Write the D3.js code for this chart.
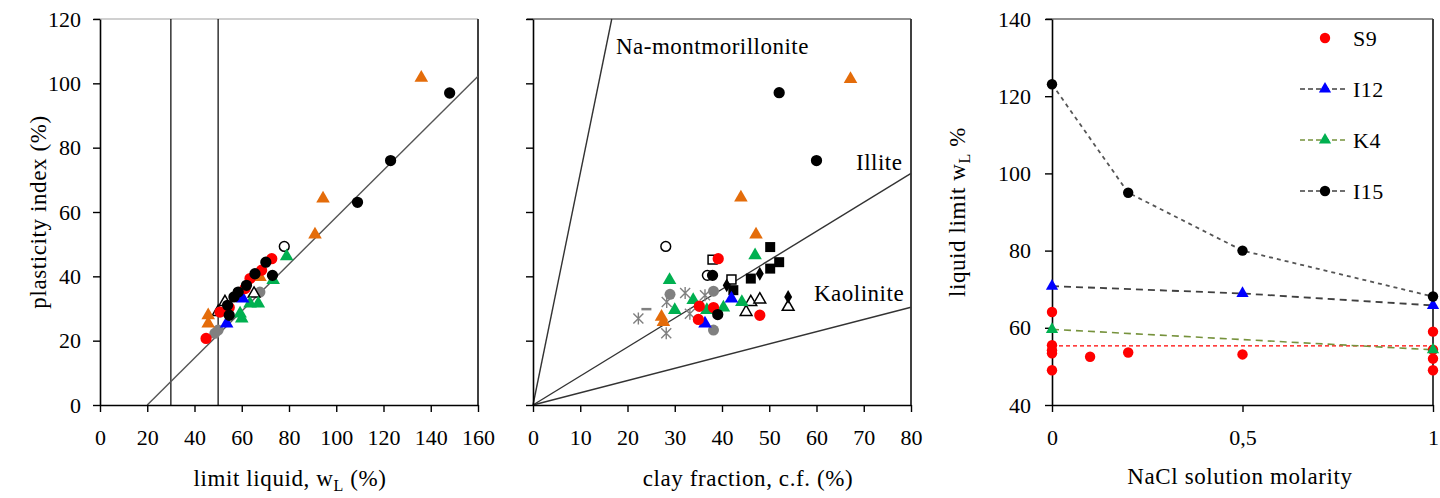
<!DOCTYPE html>
<html>
<head>
<meta charset="utf-8">
<script src="https://cdn.jsdelivr.net/npm/d3@7"></script>
<style>
  body { margin: 0; background: #fff; }
  svg text { font-family: 'Liberation Serif', 'Times New Roman', serif; fill: #000; }
</style>
</head>
<body>
<div id="chart"></div>
<script>
// ---- data: Casagrande plasticity chart (wL, PI)
var casaRed = [[44.9, 20.7], [50.8, 28.9], [54.7, 30.3], [61.4, 36.2], [63.5, 39.3], [68.4, 41.9], [72.7, 45.5]];
var casaBlack = [[54.7, 27.9], [54, 31], [56.7, 33.6], [58.5, 35.1], [62, 37.2], [65.6, 40.8], [70.2, 44.4], [73, 40.3], [109, 63], [123, 76], [148, 97]];
var casaGrey = [[48.6, 22.3], [50, 23.3], [67.7, 35.1]];
var casaOrange = [[45.8, 25.3], [45.8, 27.9], [67.7, 39.8], [91, 53], [94.4, 64.2], [136, 101.7]];
var casaGreen = [[59.3, 28.4], [60, 26.9], [63.5, 31.5], [67, 31.5], [73.3, 38.8], [79, 46.2]];
var casaBlue = [[53.6, 25.3], [60.4, 33.1]];
var casaOpenTri = [[50, 28.9], [52.9, 32], [65.2, 34.6]];
var casaOpenCircle = [[78, 49.3]];
var casaVertical = [30, 50];
var aLine = [[20, 0], [160, 102.2]];

// ---- data: activity chart (clay fraction, PI)
var actRed = [[35.2, 30.7], [38.2, 30.3], [35, 26.6], [48, 27.9], [39.2, 45.5]];
var actBlack = [[38, 40.3], [39.1, 28.1], [52.1, 97.1], [60, 76]];
var actBlackSquare = [[50.2, 49.1], [52.1, 44.4], [50.2, 42.4], [46.1, 39.3], [42.4, 35.7]];
var actBlackDiamond = [[48, 40.8], [41, 37.2], [54, 33.6]];
var actOpenSquare = [[38, 45.2], [42, 39]];
var actOpenCircle = [[28.1, 49.3], [36.9, 40.3]];
var actOpenTri = [[46.1, 32], [48, 32.8], [45.1, 28.9], [54, 30.5]];
var actGreen = [[47, 46.5], [28.9, 38.8], [33.9, 32.6], [30, 29.5], [36.8, 29.5], [40.3, 30.3], [44.2, 32]];
var actOrange = [[27.2, 27.4], [27.6, 25.8], [44, 64.5], [47.2, 53], [67.2, 101.3]];
var actBlue = [[42, 33.1], [36.4, 25.3]];
var actGrey = [[29, 34.4], [38.2, 35.4], [38.2, 23.3]];
var actGreyStar = [[22.3, 26.9], [28.3, 32], [28.2, 22.3], [32.2, 34.8], [33.2, 28.4], [36.4, 34.1]];
var actGreyDash = [[24, 29.8]];
var activityNames = ["Na-montmorillonite", "Illite", "Kaolinite"];
var activityValues = [7.2, 0.9, 0.38];

// ---- data: liquid limit vs NaCl molarity
var s9 = [[0, 64.1], [0, 55.5], [0, 54.2], [0, 53.4], [0, 49], [0.1, 52.5], [0.2, 53.6], [0.5, 53.1], [1, 59], [1, 54.3], [1, 52], [1, 49]];
var s9Trend = [[0, 55.3], [1, 55.3]];
var i12 = [[0, 70.8], [0.5, 68.9], [1, 65.8]];
var k4 = [[0, 59.6], [1, 54.3]];
var i15 = [[0, 123.1], [0.2, 95], [0.5, 80], [1, 68.1]];
var molarityTicks = [0, 0.5, 1];
var llTicks = [40, 60, 80, 100, 120, 140];
var legendNames = ["S9", "I12", "K4", "I15"];

var RED = "#FF0000", BLACK = "#000000", GREY = "#808080", ORANGE = "#E46C0A",
    GREEN = "#00B050", BLUE = "#0000FF";

var svg = d3.select("#chart").append("svg")
    .attr("width", 1440)
    .attr("height", 498);

var FS = 22;

// scales
var xL = d3.scaleLinear().domain([0, 160]).range([100, 478]);
var yL = d3.scaleLinear().domain([0, 120]).range([405, 19]);
var xM = d3.scaleLinear().domain([0, 80]).range([533, 911]);
var yM = yL;
var xR = d3.scaleLinear().domain([0, 1]).range([1052, 1433]);
var yR = d3.scaleLinear().domain([40, 140]).range([405, 19]);

function starPath(s) {
    return "M" + (-s) + "," + (-s) + "L" + s + "," + s +
        "M" + (-s) + "," + s + "L" + s + "," + (-s) +
        "M0," + (-s * 1.2) + "L0," + (s * 1.2);
}

function drawMarks(g, data, x, y, shape, color, size, open) {
    var sel = g.append("g").selectAll("path").data(data).enter().append("path")
        .attr("transform", function (d) { return "translate(" + x(d[0]) + "," + y(d[1]) + ")"; });
    if (shape == "star") {
        sel.attr("d", starPath(size)).style("fill", "none")
            .style("stroke", color).style("stroke-width", 1.4);
        return;
    }
    if (shape == "dash") {
        sel.attr("d", "M" + (-size) + ",0L" + size + ",0").style("fill", "none")
            .style("stroke", color).style("stroke-width", 2.5);
        return;
    }
    var type = {circle: d3.symbolCircle, triangle: d3.symbolTriangle,
        square: d3.symbolSquare, diamond: d3.symbolDiamond}[shape];
    sel.attr("d", d3.symbol().type(type).size(size)());
    if (open) {
        sel.style("fill", "#fff").style("stroke", color).style("stroke-width", 1.5);
    } else {
        sel.style("fill", color);
    }
}

function frame(g, x, y, topColor) {
    var r = x.range(), t = y.range();
    g.append("line").attr("x1", r[0] - 6).attr("x2", r[1]).attr("y1", t[1]).attr("y2", t[1])
        .style("stroke", topColor).style("stroke-width", 2);
    g.append("line").attr("x1", r[1]).attr("x2", r[1]).attr("y1", t[1]).attr("y2", t[0])
        .style("stroke", "#404040").style("stroke-width", 2);
}

function styleAxis(a) {
    a.selectAll("path").style("stroke", "#000").style("stroke-width", 1.6);
    a.selectAll("line").style("stroke", "#000").style("stroke-width", 1.4);
    a.selectAll("text").style("font-size", FS + "px")
        .style("font-family", "'Liberation Serif', serif");
}

function axisLabel(x, y, parts, rotate) {
    var t = svg.append("text")
        .attr("text-anchor", "middle")
        .style("font-size", "23px")
        .style("letter-spacing", "0.6px")
        .attr("transform", "translate(" + x + "," + y + ")" + (rotate ? " rotate(-90)" : ""));
    parts.forEach(function (p) {
        var s = t.append("tspan").text(p[0]);
        if (p[1] == "sub") s.attr("dy", 5).style("font-size", "16px");
        if (p[1] == "up") s.attr("dy", -5);
    });
}

// ---------- left panel
var gL = svg.append("g");
frame(gL, xL, yL, "#d0d0d0");
gL.selectAll(".vline").data(casaVertical).enter().append("line")
    .attr("x1", function (d) { return xL(d); })
    .attr("x2", function (d) { return xL(d); })
    .attr("y1", yL(0)).attr("y2", yL(120))
    .style("stroke", "#000").style("stroke-width", 1.2);
gL.append("path").datum(aLine)
    .attr("d", d3.line().x(function (d) { return xL(d[0]); }).y(function (d) { return yL(d[1]); }))
    .style("stroke", "#555").style("stroke-width", 1.4).style("fill", "none");

var axL = gL.append("g").attr("transform", "translate(0,405)")
    .call(d3.axisBottom(xL).tickValues(d3.range(0, 161, 20)).tickSize(7).tickSizeOuter(0).tickPadding(17));
styleAxis(axL);
var ayL = gL.append("g").attr("transform", "translate(100,0)")
    .call(d3.axisLeft(yL).tickValues(d3.range(0, 121, 20)).tickSize(7).tickSizeOuter(0).tickPadding(12));
styleAxis(ayL);

drawMarks(gL, casaGrey, xL, yL, "circle", GREY, 95);
drawMarks(gL, casaOpenTri, xL, yL, "triangle", BLACK, 60, true);
drawMarks(gL, casaOpenCircle, xL, yL, "circle", BLACK, 75, true);
drawMarks(gL, casaOrange, xL, yL, "triangle", ORANGE, 80);
drawMarks(gL, casaGreen, xL, yL, "triangle", GREEN, 80);
drawMarks(gL, casaBlue, xL, yL, "triangle", BLUE, 80);
drawMarks(gL, casaRed, xL, yL, "circle", RED, 100);
drawMarks(gL, casaBlack, xL, yL, "circle", BLACK, 100);

axisLabel(46, 212, [["plasticity index (%)"]], true);
axisLabel(290, 486, [["limit liquid, w"], ["L", "sub"], [" (%)", "up"]]);

// ---------- middle panel
var gM = svg.append("g");
frame(gM, xM, yM, "#909090");
gM.selectAll(".aline").data(activityValues).enter().append("line")
    .attr("x1", xM(0)).attr("y1", yM(0))
    .attr("x2", function (d) { return xM(Math.min(80, 120 / d)); })
    .attr("y2", function (d) { return yM(Math.min(120, 80 * d)); })
    .style("stroke", "#333").style("stroke-width", 1.4);

var axM = gM.append("g").attr("transform", "translate(0,405)")
    .call(d3.axisBottom(xM).tickValues(d3.range(0, 81, 10)).tickSize(7).tickSizeOuter(0).tickPadding(17));
styleAxis(axM);
var ayM = gM.append("g").attr("transform", "translate(533,0)")
    .call(d3.axisLeft(yM).tickValues(d3.range(0, 121, 20)).tickSize(7).tickSizeOuter(0).tickFormat(""));
styleAxis(ayM);

var labelPos = [[616, 54], [856, 170], [814, 301]];
activityNames.forEach(function (n, i) {
    gM.append("text").attr("x", labelPos[i][0]).attr("y", labelPos[i][1])
        .style("font-size", "23px").style("letter-spacing", "0.5px").text(n);
});

drawMarks(gM, actGreyStar, xM, yM, "star", GREY, 5);
drawMarks(gM, actGreyDash, xM, yM, "dash", GREY, 5);
drawMarks(gM, actGrey, xM, yM, "circle", GREY, 95);
drawMarks(gM, actOpenTri, xM, yM, "triangle", BLACK, 60, true);
drawMarks(gM, actOpenSquare, xM, yM, "square", BLACK, 80, true);
drawMarks(gM, actOpenCircle, xM, yM, "circle", BLACK, 75, true);
drawMarks(gM, actBlackSquare, xM, yM, "square", BLACK, 100);
drawMarks(gM, actBlackDiamond, xM, yM, "diamond", BLACK, 55);
drawMarks(gM, actOrange, xM, yM, "triangle", ORANGE, 80);
drawMarks(gM, actGreen, xM, yM, "triangle", GREEN, 80);
drawMarks(gM, actBlue, xM, yM, "triangle", BLUE, 80);
drawMarks(gM, actRed, xM, yM, "circle", RED, 100);
drawMarks(gM, actBlack, xM, yM, "circle", BLACK, 100);

axisLabel(748, 486, [["clay fraction, c.f. (%)"]]);

// ---------- right panel
var gR = svg.append("g");
frame(gR, xR, yR, "#909090");
var axR = gR.append("g").attr("transform", "translate(0,405)")
    .call(d3.axisBottom(xR).tickValues(molarityTicks).tickSize(7).tickSizeOuter(0).tickPadding(17)
        .tickFormat(function (d) { return String(d).replace(".", ","); }));
styleAxis(axR);
var ayR = gR.append("g").attr("transform", "translate(1052,0)")
    .call(d3.axisLeft(yR).tickValues(llTicks).tickSize(7).tickSizeOuter(0).tickPadding(14));
styleAxis(ayR);

var line = d3.line().x(function (d) { return xR(d[0]); }).y(function (d) { return yR(d[1]); });
var seriesLines = [
    [s9Trend, RED, "4,3", 1.2],
    [i12, "#404040", "7,5", 1.8],
    [k4, "#76923C", "7,5", 1.6],
    [i15, "#555555", "4,4", 1.8]
];
seriesLines.forEach(function (s) {
    gR.append("path").datum(s[0]).attr("d", line)
        .style("fill", "none").style("stroke", s[1])
        .style("stroke-dasharray", s[2]).style("stroke-width", s[3]);
});

drawMarks(gR, s9, xR, yR, "circle", RED, 85);
drawMarks(gR, i12, xR, yR, "triangle", BLUE, 65);
drawMarks(gR, k4, xR, yR, "triangle", GREEN, 65);
drawMarks(gR, i15, xR, yR, "circle", BLACK, 85);

// legend
var legendColors = [RED, BLUE, GREEN, BLACK];
var legendShapes = ["circle", "triangle", "triangle", "circle"];
var legendLines = [null, "#404040", "#76923C", "#404040"];
legendNames.forEach(function (n, i) {
    var ly = 38 + i * 51;
    var lg = gR.append("g").attr("transform", "translate(1325," + ly + ")");
    if (legendLines[i]) {
        lg.append("line").attr("x1", -25).attr("x2", 22).attr("y1", 0).attr("y2", 0)
            .style("stroke", legendLines[i]).style("stroke-width", 1.6)
            .style("stroke-dasharray", "5,3");
    }
    lg.append("path").attr("d", d3.symbol().type(legendShapes[i] == "circle" ? d3.symbolCircle : d3.symbolTriangle)
        .size(legendShapes[i] == "circle" ? 85 : 65)())
        .style("fill", legendColors[i]);
    lg.append("text").attr("x", 28).attr("y", 8).style("font-size", "22px")
        .style("letter-spacing", "0.5px").text(n);
});

axisLabel(965, 212, [["liquid limit w"], ["L", "sub"], [" %", "up"]], true);
axisLabel(1240, 484, [["NaCl solution molarity"]]);
</script>
</body>
</html>
